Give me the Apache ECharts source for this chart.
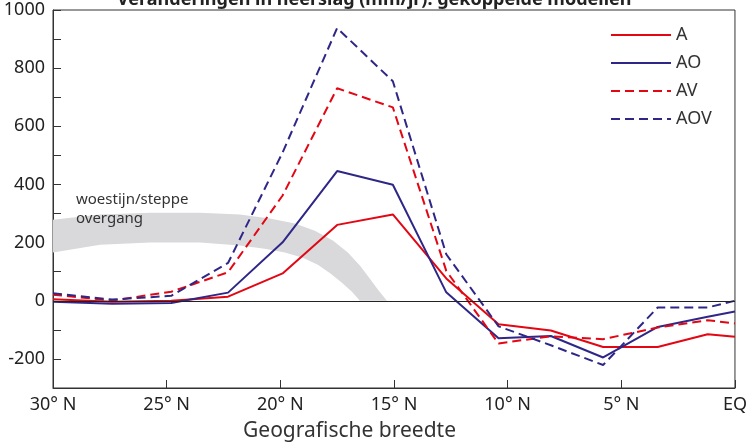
<!DOCTYPE html>
<html>
<head>
<meta charset="utf-8">
<script src="https://cdn.jsdelivr.net/npm/echarts@6/dist/echarts.min.js"></script>
<style>
  html, body { margin: 0; padding: 0; background: #fff; }
  #chart { width: 750px; height: 446px; }
</style>
</head>
<body>
<div id="chart"></div>
<script>
// latitudes of the model points (degrees N)
var lats = [30, 27.4, 24.8, 22.3, 19.9, 17.5, 15.05, 12.7, 10.4, 8.1, 5.8, 3.4, 1.2, 0]
var seriesA = [5, -3, 0, 14, 94, 261, 297, 77, -81, -102, -159, -159, -115, -124]
var seriesAO = [-3, -10, -8, 28, 201, 446, 399, 29, -129, -121, -195, -90, -55, -37]
var seriesAV = [21, 1, 31, 98, 362, 731, 665, 103, -147, -122, -132, -92, -67, -78]
var seriesAOV = [26, 4, 17, 130, 510, 938, 755, 160, -88, -153, -221, -23, -23, 0]

// grey desert/steppe transition band: upper and lower edge
var bandTopLats = [30, 27.93, 25.73, 23.54, 21.78, 20.46, 19.36, 18.48, 17.69, 17.03, 16.5, 16.06, 15.66, 15.31]
var bandTopVals = [279, 297, 303, 303, 297, 283, 266, 241, 207, 166, 121, 76, 34, 0]
var bandLowLats = [30, 27.93, 25.73, 23.54, 21.78, 20.68, 19.8, 19.01, 18.35, 17.78, 17.29, 16.85, 16.5]
var bandLowVals = [166, 193, 200, 200, 190, 179, 166, 148, 124, 93, 62, 31, 0]

var xTicks = { 30: '30° N', 25: '25° N', 20: '20° N', 15: '15° N', 10: '10° N', 5: '5° N', 0: 'EQ' }

var red = '#e30613'
var blue = '#2e2787'
var font = 'Noto Sans'

function pairs(xs, ys) {
  return xs.map(function(x, i) { return [x, ys[i]] })
}

var chart = echarts.init(document.getElementById('chart'))

chart.setOption({
  animation: false,
  textStyle: { fontFamily: font },
  graphic: [
    {
      type: 'text',
      left: 117,
      top: -9,
      style: {
        text: 'Veranderingen in neerslag (mm/jr): gekoppelde modellen',
        font: 'bold 18px "Noto Sans"',
        fill: '#222'
      }
    },
    {
      type: 'text',
      left: 76,
      top: 190,
      z: 5,
      style: {
        text: 'woestijn/steppe\novergang',
        font: '15px "Noto Sans"',
        lineHeight: 19,
        fill: '#333'
      }
    },
    {
      type: 'text',
      left: 243,
      top: 421,
      style: {
        text: 'Geografische breedte',
        font: '21px "Noto Sans"',
        fill: '#333'
      }
    }
  ],
  legend: {
    orient: 'vertical',
    left: 610,
    top: 26,
    padding: 0,
    itemWidth: 60,
    itemHeight: 14,
    itemGap: 10,
    itemStyle: { opacity: 0 },
    textStyle: { fontSize: 18, color: '#333', fontFamily: font },
    data: ['A', 'AO', 'AV', 'AOV']
  },
  grid: {
    left: 53,
    right: 15,
    top: 10,
    bottom: 58,
    show: true,
    borderColor: '#333',
    borderWidth: 1
  },
  xAxis: {
    type: 'value',
    inverse: true,
    min: 0,
    max: 30,
    interval: 5,
    axisLine: { onZero: false, lineStyle: { color: '#333' } },
    axisTick: { inside: true, length: 8, lineStyle: { color: '#333' } },
    axisLabel: {
      fontSize: 18,
      color: '#222',
      margin: 8,
      formatter: function(v) { return xTicks[v] || '' }
    },
    splitLine: { show: false }
  },
  yAxis: {
    type: 'value',
    min: -300,
    max: 1000,
    interval: 100,
    axisLine: { show: true, onZero: false, lineStyle: { color: '#333' } },
    axisTick: { inside: true, length: 8, lineStyle: { color: '#333' } },
    axisLabel: {
      fontSize: 18,
      color: '#222',
      margin: 8,
      formatter: function(v) { return (v % 200 === 0 && v >= -200) ? String(v) : '' }
    },
    splitLine: { show: false }
  },
  series: [
    {
      name: 'band',
      type: 'custom',
      silent: true,
      z: 1,
      data: pairs(bandTopLats, bandTopVals),
      renderItem: function(params, api) {
        if (params.dataIndex !== 0) return
        var top = pairs(bandTopLats, bandTopVals).map(function(p) { return api.coord(p) })
        var low = pairs(bandLowLats, bandLowVals).map(function(p) { return api.coord(p) })
        return {
          type: 'polygon',
          shape: { points: top.concat(low.reverse()) },
          style: { fill: '#d9d9db' }
        }
      }
    },
    {
      name: 'A',
      type: 'line',
      symbol: 'none',
      z: 3,
      lineStyle: { color: red, width: 2 },
      itemStyle: { color: red },
      data: pairs(lats, seriesA),
      markLine: {
        silent: true,
        symbol: 'none',
        label: { show: false },
        lineStyle: { color: '#222', width: 1, type: 'solid' },
        data: [{ yAxis: 0 }]
      }
    },
    {
      name: 'AO',
      type: 'line',
      symbol: 'none',
      z: 3,
      lineStyle: { color: blue, width: 2 },
      itemStyle: { color: blue },
      data: pairs(lats, seriesAO)
    },
    {
      name: 'AV',
      type: 'line',
      symbol: 'none',
      z: 3,
      lineStyle: { color: red, width: 2, type: [9, 5] },
      itemStyle: { color: red },
      data: pairs(lats, seriesAV)
    },
    {
      name: 'AOV',
      type: 'line',
      symbol: 'none',
      z: 3,
      lineStyle: { color: blue, width: 2, type: [9, 5] },
      itemStyle: { color: blue },
      data: pairs(lats, seriesAOV)
    }
  ]
})
</script>
</body>
</html>
